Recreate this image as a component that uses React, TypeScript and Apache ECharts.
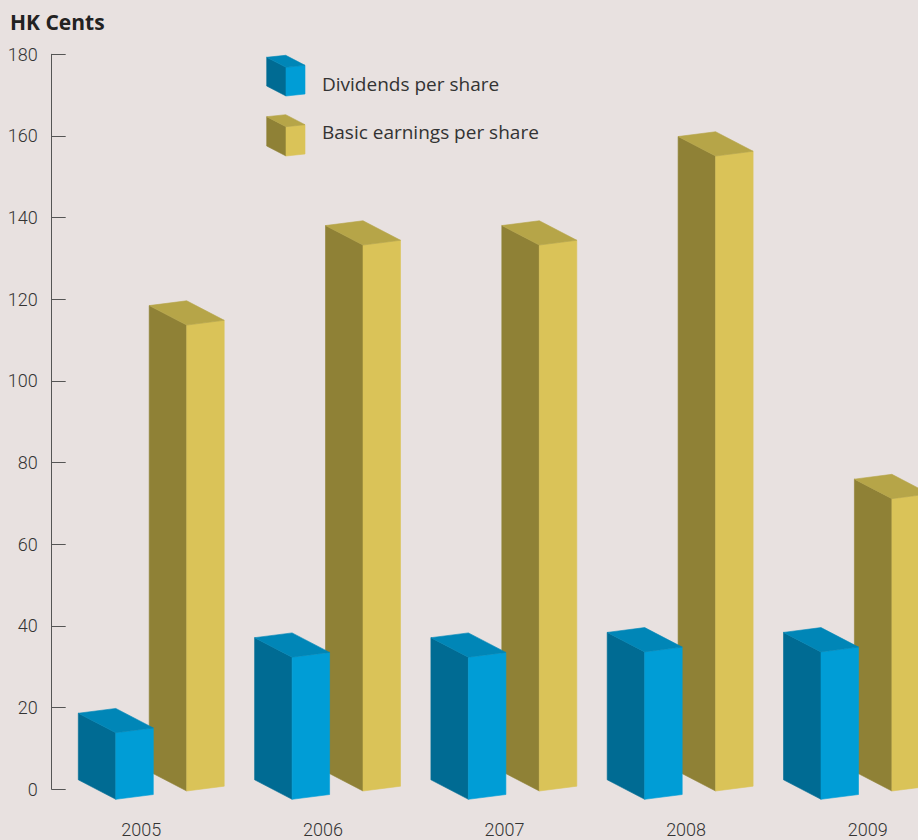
import React, { useEffect, useRef } from "react";
import * as echarts from "echarts";

// ---- data ----
const years = ["2005", "2006", "2007", "2008", "2009"];
const dividendsPerShare = [16.3, 34.8, 34.8, 36.1, 36.1];
const basicEarningsPerShare = [114.1, 133.7, 133.7, 155.5, 71.6];
const seriesNames = ["Dividends per share", "Basic earnings per share"];
const yMin = 0;
const yMax = 180;
const yStep = 20;
const unitLabel = "HK Cents";

// ---- styles ----
const BG = "#e8e1e0";
const TEXT = "#333333";
const NARROW = "'Liberation Sans Narrow', Roboto, sans-serif";
const SANS = "'Open Sans', 'Noto Sans', sans-serif";
const blue = { front: "#009dd6", side: "#006b93", top: "#0086b7" };
const gold = { front: "#dac358", side: "#8f8136", top: "#b6a548" };

type Faces = { front: string; side: string; top: string };

// box from its front-left-bottom corner (fx, fy)
function boxPolys(fx: number, fy: number, h: number, w: [number, number], d: [number, number], c: Faces) {
  const p = (x: number, y: number) => [x, y];
  const F = p(fx, fy);
  const FR = p(fx + w[0], fy + w[1]);
  const BL = p(fx + d[0], fy + d[1]);
  const Ft = p(fx, fy - h);
  const FRt = p(fx + w[0], fy + w[1] - h);
  const BLt = p(fx + d[0], fy + d[1] - h);
  const BRt = p(fx + w[0] + d[0], fy + w[1] + d[1] - h);
  const mk = (pts: number[][], fill: string) => ({
    type: "polygon",
    shape: { points: pts },
    style: { fill, stroke: fill, lineWidth: 0.6 },
  });
  return [
    mk([F, BL, BLt, Ft], c.side),
    mk([F, FR, FRt, Ft], c.front),
    mk([Ft, FRt, BRt, BLt], c.top),
  ];
}

const W: [number, number] = [37.5, -4.8];
const D: [number, number] = [-37.5, -19.5];

function makeRender(dx: number, dy: number, c: Faces) {
  return (params: any, api: any) => {
    const i = api.value(0);
    const v = api.value(1);
    const top = api.coord([i, v]);
    const base = api.coord([i, 0]);
    const h = base[1] - top[1];
    return {
      type: "group",
      children: boxPolys(base[0] + dx, base[1] + dy, h, W, D, c),
    };
  };
}

export default function App() {
  const ref = useRef<HTMLDivElement>(null);
  useEffect(() => {
    if (!ref.current) return;
    const chart = echarts.init(ref.current, undefined, { renderer: "svg" });
    const legendCube = (fx: number, fy: number, h: number, c: Faces) =>
      boxPolys(fx, fy, h, [19, -2], [-19.3, -10], c);
    chart.setOption({
      animation: false,
      backgroundColor: BG,
      grid: [
        { left: 78.3, right: 134.5, top: 54.3, bottom: 50.7 },
        { left: 141.3, right: 50.3, top: 54.3, bottom: 50.7 },
      ],
      xAxis: [
        {
          type: "category",
          gridIndex: 0,
          data: years,
          boundaryGap: false,
          show: false,
        },
        {
          type: "category",
          gridIndex: 1,
          data: years,
          boundaryGap: false,
          axisLine: { show: false },
          axisTick: { show: false },
          axisLabel: {
            margin: 31,
            fontSize: 18,
            fontWeight: 300,
            color: TEXT,
            fontFamily: NARROW,
          },
        },
      ],
      yAxis: [
        {
          type: "value",
          gridIndex: 0,
          min: yMin,
          max: yMax,
          interval: yStep,
          offset: 26.6,
          axisLine: { show: true, lineStyle: { color: "#555555", width: 1 } },
          axisTick: { show: true, inside: true, length: 14, lineStyle: { color: "#555555", width: 1 } },
          axisLabel: { margin: 14, fontSize: 18, fontWeight: 300, color: TEXT, fontFamily: NARROW },
          splitLine: { show: false },
        },
        { type: "value", gridIndex: 1, show: false, min: yMin, max: yMax },
      ],
      series: [
        {
          type: "custom",
          name: seriesNames[1],
          xAxisIndex: 0,
          yAxisIndex: 0,
          z: 2,
          data: years.map((_, i) => [i, basicEarningsPerShare[i]]),
          renderItem: makeRender(108.4, 1.7, gold),
        },
        {
          type: "custom",
          name: seriesNames[0],
          xAxisIndex: 0,
          yAxisIndex: 0,
          z: 3,
          data: years.map((_, i) => [i, dividendsPerShare[i]]),
          renderItem: makeRender(37.5, 10, blue),
        },
      ],
      graphic: [
        {
          type: "text",
          left: 10,
          top: 11,
          style: {
            text: unitLabel,
            fontSize: 21,
            fontWeight: "bold",
            fontFamily: SANS,
            fill: "#222222",
          },
        },
        { type: "group", children: legendCube(286, 96, 28.7, blue) },
        { type: "group", children: legendCube(286, 156, 29.3, gold) },
        {
          type: "text",
          x: 322,
          y: 83.5,
          style: {
            text: seriesNames[0],
            fontSize: 19,
            fontFamily: SANS,
            fill: TEXT,
            verticalAlign: "middle",
          },
        },
        {
          type: "text",
          x: 322,
          y: 131.5,
          style: {
            text: seriesNames[1],
            fontSize: 19,
            fontFamily: SANS,
            fill: TEXT,
            verticalAlign: "middle",
          },
        },
      ],
    });
    return () => chart.dispose();
  }, []);
  return (
    <div
      ref={ref}
      style={{ position: "fixed", left: 0, top: 0, width: 918, height: 840 }}
    />
  );
}
